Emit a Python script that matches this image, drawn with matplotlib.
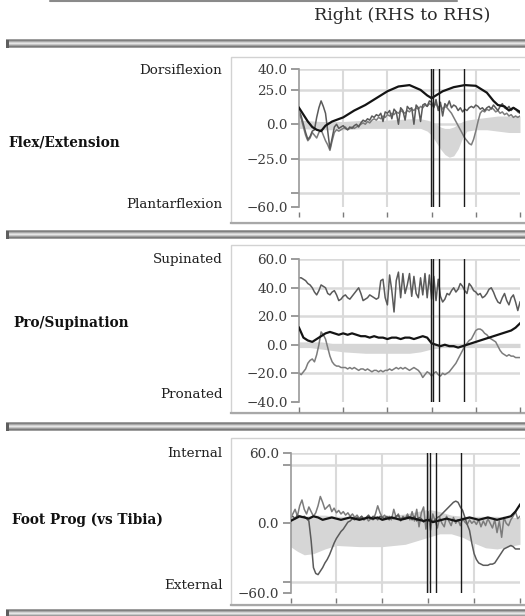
import matplotlib
matplotlib.use("Agg")
import matplotlib.pyplot as plt
import numpy as np
from matplotlib.patches import Rectangle
from matplotlib.ticker import FixedLocator, FixedFormatter

plt.rcParams['font.family'] = ['DejaVu Serif']

W, H = 525, 616

# ---------------- data ----------------
pct = list(range(101))            # % gait cycle, 1% steps
pct2 = list(range(0, 101, 2))     # % gait cycle, 2% steps

# gait events (% cycle)
events = [59.6, 60.8, 63.5, 74.5]

# --- Flex/Extension ---
flex_black_x = [0, 2, 4, 6, 8, 10, 12, 15, 20, 25, 30, 35, 40, 45, 50, 55, 58, 60,
                62, 65, 70, 75, 80, 85, 88, 90, 93, 95, 97, 100]
flex_black = [12, 7, 2, -2, -4, -5, -1, 2, 5, 10, 14, 19, 24, 27.5, 28.5, 25, 21, 19,
              21, 24, 27, 28.5, 28, 23, 17, 14, 13, 10, 12, 9]
flex_g1 = [10, 6, 0, -6, -11, -9, -5, -4, 5, 12, 17,
           13, 8, -5, -18, -10, -2, 0, -3, -2, -1,
           -3, -4, -2, -3, -1, 0, -2, 1, 3, 2,
           4, 3, 6, 5, 7, 6, 8, 2, 9, 8,
           10, 4, 11, 9, 0, 12, 10, 3, 13, 11,
           12, 0, 14, 12, 2, 14, 15, 13, 17, 16,
           12, 18, 10, 16, 6, 15, 13, 17, 12, 14,
           13, 10, 12, 9, 11, 10, 12, 13, 12, 14,
           13, 11, 12, 10, 12, 13, 11, 14, 12, 10,
           13, 15, 12, 11, 13, 10, 12, 11, 9, 8]
flex_g2 = [8, 4, -2, -8, -12, -10, -6, -8, -10, -6, -4,
           -8, -12, -15, -19, -12, -6, -4, -5, -4, -3,
           -2, -4, -3, -2, -3, -2, -1, 0, 1, 0,
           2, 1, 3, 4, 3, 5, 4, 6, 5, 7,
           6, 8, 7, 9, 8, 10, 9, 8, 10, 9,
           11, 10, 12, 11, 13, 12, 14, 13, 15, 14,
           13, 15, 12, 14, 11, 13, 12, 10, 8, 5,
           2, -1, -4, -7, -10, -12, -14, -15, -11, -5,
           2, 8, 10, 9, 11, 10, 12, 11, 9, 10,
           8, 9, 7, 8, 6, 7, 5, 6, 5, 6]
flex_band_x = [0, 10, 20, 30, 40, 50, 55, 58, 60, 62, 64, 66, 68, 70, 72, 74, 76, 80,
               85, 90, 95, 100]
flex_band_hi = [3, 2, 2, 3, 3, 4, 4, 3, 2, 0, -2, -3, -3, -2, 0, 2, 3, 4, 5, 6, 6, 6]
flex_band_lo = [-3, -4, -4, -3, -3, -3, -3, -5, -8, -13, -18, -22, -24, -23, -18, -10,
                -5, -4, -4, -5, -6, -6]
flex_ticks = [40, 25, 0, -25, -50, -60]
flex_labels = ['40.0', '25.0', '0.0', '\u221225.0', '', '\u221260.0']

# --- Pro/Supination ---
pro_g1 = [47, 47, 46, 45, 43, 42, 40, 37, 35, 38, 42,
          41, 40, 36, 35, 37, 38, 35, 31, 32, 34,
          35, 33, 32, 34, 36, 38, 40, 36, 31, 32,
          33, 35, 34, 33, 32, 33, 45, 46, 33, 28,
          49, 38, 23, 45, 51, 33, 50, 36, 42, 50,
          34, 48, 36, 33, 47, 35, 50, 33, 49, 32,
          48, 31, 46, 34, 30, 32, 36, 35, 38, 40,
          37, 39, 43, 41, 38, 36, 43, 41, 38, 37,
          35, 36, 33, 34, 36, 39, 40, 37, 33, 30,
          29, 33, 36, 31, 28, 33, 35, 30, 24, 30]
pro_black = [12, 5, 3, 2, 4, 6, 8, 9, 8, 7, 8, 7, 8, 7, 6, 6, 5, 6, 5, 5, 4, 5, 5, 4,
             5, 5, 4, 5, 6, 5, 1, 0, -1, 0, -1, -1, -2, -1, 0, 1, 2, 3, 4, 5, 6, 7, 8,
             9, 10, 12, 15]
pro_g2 = [-20, -21, -19, -17, -13, -11, -10, -12, -7, 0, 9,
          7, 4, -2, -8, -12, -14, -15, -15, -16, -16,
          -16, -17, -16, -17, -16, -17, -18, -17, -17, -18,
          -17, -18, -19, -18, -18, -19, -18, -19, -18, -18,
          -17, -18, -17, -16, -17, -16, -17, -16, -17, -18,
          -17, -16, -17, -18, -20, -23, -21, -19, -20, -22,
          -20, -19, -21, -22, -20, -21, -20, -19, -17, -15,
          -13, -10, -7, -4, -1, 1, 3, 4, 7, 10,
          11, 11, 10, 8, 7, 5, 4, 3, 2, -1,
          -4, -6, -7, -8, -7, -8, -8, -9, -9, -9]
pro_band_x = [0, 5, 10, 15, 20, 30, 40, 50, 55, 60, 65, 70, 80, 90, 100]
pro_band_hi = [2, 2, 2, 1, 1, 1, 1, 1, 1, 1, 1, 1, 1, 1, 1]
pro_band_lo = [-2, -2, -3, -4, -5, -6, -6, -6, -5, -3, -2, -2, -2, -2, -2]
pro_ticks = [60, 40, 20, 0, -20, -40]
pro_labels = ['60.0', '40.0', '20.0', '0.0', '\u221220.0', '\u221240.0']

# --- Foot Prog (vs Tibia) ---
prog_g1 = [5, 6, 4, 7, 6, 5, 6, 4, 2, -15, -38,
           -43, -44, -41, -38, -34, -31, -27, -22, -17, -13,
           -10, -7, -5, -2, 1, 2, 4, 3, 5, 4,
           6, 3, 5, 7, 4, 6, 5, 3, 6, 5,
           4, 6, 3, 5, 4, 6, 7, 3, 5, 4,
           6, 5, 3, 6, 2, 5, 4, 1, 3, 2,
           4, 1, 3, 5, 6, 8, 10, 12, 14, 16,
           18, 19, 18, 14, 11, 5, -1, -6, -17, -26,
           -31, -34, -35, -36, -36, -36, -35, -35, -34, -31,
           -28, -25, -22, -21, -20, -19, -20, -22, -22, -22]
prog_black = [2, 4, 6, 5, 4, 6, 5, 3, 4, 5, 4, 3, 4, 5, 4, 3, 4, 5, 4, 5, 3, 4, 5, 4,
              3, 4, 5, 4, 3, 2, 3, 1, 2, 3, 4, 3, 2, 3, 4, 5, 4, 3, 4, 5, 4, 3, 4, 5, 6,
              10, 16]
prog_g2 = [5, 8, 12, 6, 15, 20, 12, 8, 14, 10, 6,
           9, 15, 23, 18, 12, 14, 16, 10, 13, 9,
           11, 8, 10, 7, 9, 6, 8, 5, 7, 4,
           6, 3, 5, 2, 4, 3, 8, 15, 9, 5,
           7, 4, 6, 3, 12, 5, 8, 2, 6, 4,
           8, 3, 10, 2, 12, -3, 9, 14, -5, 10,
           -6, 8, 2, -4, 5, 0, -3, 6, 2, -2,
           5, 0, 3, -2, 4, 1, -1, 3, 0, 2,
           -1, 3, -3, 2, -2, 4, 0, -4, 3, -8,
           2, -12, 5, 0, -2, 3, 6, 10, 4, 6]
prog_band_x = [0, 3, 6, 10, 15, 20, 30, 40, 50, 55, 60, 65, 70, 75, 80, 85, 90, 95, 100]
prog_band_hi = [5, 6, 6, 7, 7, 6, 6, 6, 8, 10, 12, 10, 7, 6, 6, 6, 6, 5, 5]
prog_band_lo = [-20, -24, -27, -26, -22, -19, -20, -20, -18, -15, -12, -9, -9, -12, -17,
                -21, -22, -20, -18]
prog_ticks = [60, 50, 0, -50, -60]
prog_labels = ['60.0', '', '0.0', '', '\u221260.0']

x_ticks = [0, 20, 40, 60, 80, 100]
x_grid = [20, 40, 60, 80]

# ---------------- figure ----------------
fig = plt.figure(figsize=(W / 100, H / 100), dpi=100)
fig.patch.set_facecolor('white')

ov = fig.add_axes([0, 0, 1, 1], zorder=0)
ov.axis('off')

# header rule at top
ov.plot([50, 457], [0.8, 0.8], color='#8a8a8a', lw=1.5, solid_capstyle='round')

# bevelled separator bars
bar_shades = np.array([0.62, 0.50, 0.66, 0.82, 0.90, 0.78, 0.62, 0.48, 0.62])[:, None]
for y0 in [39.5, 230.5, 422.0, 609.0]:
    ov.imshow(bar_shades, cmap='gray', vmin=0, vmax=1, aspect='auto',
              extent=[6, W, y0 + 9, y0], interpolation='bilinear', zorder=1)
    ov.add_patch(Rectangle((6, y0 + 0.5), 3, 8, color='#5e5e5e', lw=0, zorder=2))

# panel frames
for top, bot in [(57, 222.7), (245, 413.3), (438.3, 605)]:
    ov.add_patch(Rectangle((231, top), 320, bot - top, facecolor='white',
                           edgecolor='#d2d2d2', lw=1, zorder=1))
    ov.plot([231, W], [bot, bot], color='#a8a8a8', lw=1.6, zorder=2)

ov.set_xlim(0, W)
ov.set_ylim(H, 0)

txt = dict(color='#202020', fontsize=9.7)
ov.text(402, 15, 'Right (RHS to RHS)', ha='center', va='center', fontsize=12.5,
        color='#2a2a2a')

ov.text(222.5, 70.5, 'Dorsiflexion', ha='right', va='center', **txt)
ov.text(222.5, 205, 'Plantarflexion', ha='right', va='center', **txt)
ov.text(8, 143, 'Flex/Extension', ha='left', va='center', fontsize=9.8,
        fontweight='bold', color='#111111')

ov.text(222.5, 259.5, 'Supinated', ha='right', va='center', **txt)
ov.text(222.5, 394.5, 'Pronated', ha='right', va='center', **txt)
ov.text(13, 323.5, 'Pro/Supination', ha='left', va='center', fontsize=9.8,
        fontweight='bold', color='#111111')

ov.text(222.5, 453.5, 'Internal', ha='right', va='center', **txt)
ov.text(222.5, 585.5, 'External', ha='right', va='center', **txt)
ov.text(12, 519.5, 'Foot Prog (vs Tibia)', ha='left', va='center', fontsize=9.8,
        fontweight='bold', color='#111111')


def px_axes(left, top, right, bottom):
    return fig.add_axes([left / W, 1 - bottom / H, (right - left) / W,
                         (bottom - top) / H], zorder=2)


def draw_panel(ax, ylim, ticks, labels, band, g1, g1x, black, blackx, g2, g2x):
    ax.set_facecolor('none')
    ax.set_xlim(0, 100)
    ax.set_ylim(*ylim)
    for v in ticks:
        if v != ylim[0]:
            ax.axhline(v, color='#dadada', lw=1.8, zorder=0.5)
    for v in x_grid:
        ax.axvline(v, color='#dadada', lw=1.5, zorder=0.5)
    bx, blo, bhi = band
    ax.fill_between(bx, blo, bhi, color='#d6d6d6', lw=0, zorder=1)
    ax.plot(g2x, g2, color='#7c7c7c', lw=1.1, zorder=2)
    ax.plot(g1x, g1, color='#5a5a5a', lw=1.1, zorder=2.2)
    ax.plot(blackx, black, color='#141414', lw=1.6, zorder=3)
    for e in events:
        ax.axvline(e, color='#1a1a1a', lw=1.0, zorder=4)
    for s in ['top', 'right']:
        ax.spines[s].set_visible(False)
    ax.spines['bottom'].set_visible(False)
    ax.spines['bottom'].set_position(('outward', 3.5))
    ax.spines['left'].set_color('#9a9a9a')
    ax.spines['left'].set_linewidth(1.2)
    ax.yaxis.set_major_locator(FixedLocator(ticks))
    ax.yaxis.set_major_formatter(FixedFormatter(labels))
    ax.xaxis.set_major_locator(FixedLocator(x_ticks))
    ax.tick_params(axis='y', direction='out', length=6, width=1.1, color='#808080',
                   labelsize=9.7, labelcolor='#3c3c3c', pad=2.2)
    ax.tick_params(axis='x', direction='out', length=3.5, width=1, color='#7a7a7a',
                   labelbottom=False)


ax1 = px_axes(299, 69.3, 520, 206.7)
draw_panel(ax1, (-60, 40), flex_ticks, flex_labels,
           (flex_band_x, flex_band_lo, flex_band_hi),
           flex_g1, pct, flex_black, flex_black_x, flex_g2, pct)

ax2 = px_axes(299, 259.3, 520, 401.7)
draw_panel(ax2, (-40, 60), pro_ticks, pro_labels,
           (pro_band_x, pro_band_lo, pro_band_hi),
           pro_g1, pct, pro_black, pct2, pro_g2, pct)

ax3 = px_axes(290.5, 453.3, 520, 593.3)
draw_panel(ax3, (-60, 60), prog_ticks, prog_labels,
           (prog_band_x, prog_band_lo, prog_band_hi),
           prog_g1, pct, prog_black, pct2, prog_g2, pct)

fig.savefig('out.png', dpi=100, facecolor='white')
